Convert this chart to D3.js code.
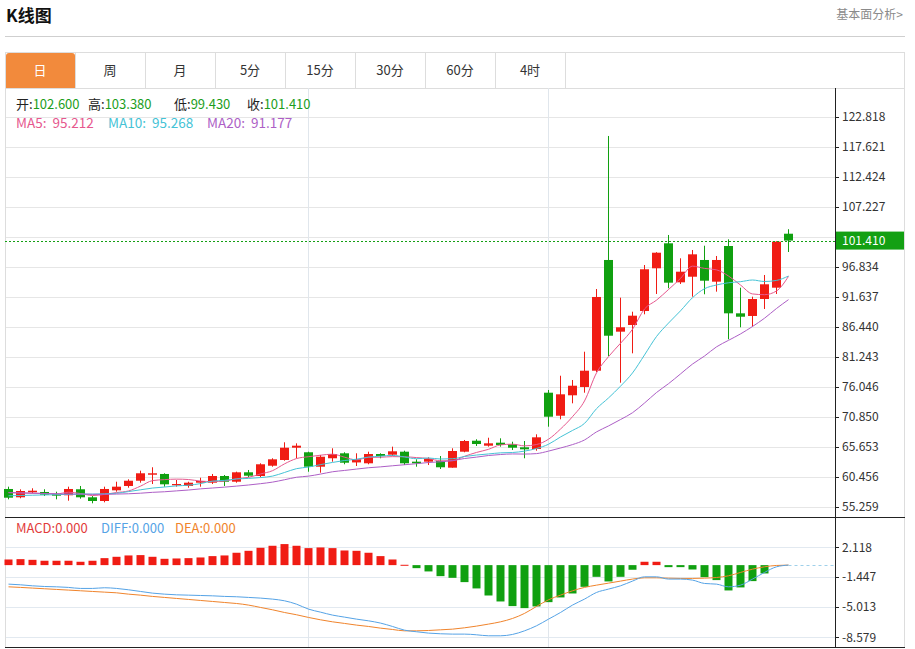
<!DOCTYPE html>
<html>
<head>
<meta charset="utf-8">
<script src="https://cdn.jsdelivr.net/npm/d3@7"></script>
<style>
body { margin: 0; background: #fff; }
svg { font-family: "Microsoft YaHei", "Noto Sans CJK SC", sans-serif; display: block; }
</style>
</head>
<body>
<svg></svg>
<script>
const width = 915
const height = 649

// 周期标签
const tabs = ['日', '周', '月', '5分', '15分', '30分', '60分', '4时']

// K线数据（日线）
const open = [58.38, 56.94, 57.81, 57.86, 57.51, 57.29, 58.33, 56.94, 56.30, 58.15,
  58.90, 59.81, 60.85, 60.98, 59.02, 58.90, 59.47, 59.47, 60.63, 59.64,
  61.27, 60.63, 62.41, 63.40, 65.53, 64.74, 62.24, 63.70, 64.56, 62.98,
  62.83, 64.44, 64.32, 64.84, 63.11, 63.11, 63.23, 62.07, 64.84, 66.74,
  65.88, 66.40, 66.12, 65.60, 65.31, 75.06, 71.07, 74.61, 76.05, 78.87,
  98.05, 85.63, 86.79, 89.21, 96.61, 100.94, 94.18, 95.15, 98.05, 94.29,
  100.47, 88.81, 88.35, 91.29, 93.25, 102.60]
const high = [58.78, 58.32, 58.50, 58.33, 57.91, 58.78, 58.90, 57.16, 58.78, 59.64,
  60.06, 61.55, 62.14, 61.10, 59.94, 59.64, 60.33, 60.98, 60.80, 61.38,
  61.67, 62.83, 63.70, 66.47, 66.29, 64.84, 64.27, 65.43, 64.74, 64.56,
  64.84, 64.56, 65.71, 65.01, 63.52, 63.87, 64.09, 65.43, 66.87, 66.99,
  67.26, 67.16, 66.57, 66.69, 67.85, 75.53, 78.00, 77.26, 82.16, 93.02,
  119.53, 91.52, 89.09, 97.18, 99.40, 102.38, 98.34, 99.78, 100.52, 98.74,
  101.63, 93.25, 91.69, 95.45, 101.30, 103.38]
const low = [56.59, 56.77, 57.63, 57.16, 56.59, 56.35, 56.70, 55.90, 56.07, 57.91,
  58.60, 59.47, 59.24, 58.78, 58.78, 58.60, 58.78, 59.24, 58.90, 59.47,
  60.40, 60.40, 62.24, 63.28, 63.70, 61.37, 61.20, 63.11, 62.66, 62.36,
  62.66, 63.70, 64.09, 62.53, 62.24, 62.53, 61.84, 62.07, 64.74, 65.83,
  65.71, 65.71, 65.13, 63.70, 65.01, 69.17, 70.45, 73.22, 75.06, 78.65,
  81.42, 76.79, 81.88, 88.64, 92.16, 93.15, 93.89, 91.69, 92.11, 92.56,
  84.31, 86.39, 86.49, 89.56, 92.16, 99.43]
const close = [56.87, 58.03, 58.08, 57.39, 57.22, 58.38, 56.94, 56.30, 58.38, 58.78,
  59.81, 61.10, 61.10, 59.19, 59.24, 59.47, 59.76, 60.63, 59.64, 61.27,
  60.68, 62.66, 63.52, 65.53, 65.88, 62.24, 63.97, 64.44, 62.93, 63.52,
  64.44, 64.09, 64.91, 62.83, 62.83, 63.57, 62.14, 64.96, 66.69, 66.17,
  66.29, 66.00, 65.53, 65.25, 67.33, 70.90, 74.78, 76.27, 78.87, 91.64,
  84.93, 86.39, 88.40, 96.44, 99.31, 94.12, 96.02, 99.03, 94.46, 98.05,
  88.81, 88.22, 91.29, 93.84, 101.22, 101.41]

// 均线
const ma5 = [57.75, 57.70, 57.65, 57.60, 57.52, 57.82, 57.60, 57.25, 57.44, 57.76,
  58.04, 58.87, 59.83, 60.00, 60.09, 60.02, 59.75, 59.66, 59.75, 60.15,
  60.40, 60.98, 61.55, 62.73, 63.65, 63.97, 64.23, 64.41, 63.89, 63.42,
  63.86, 63.88, 63.98, 63.96, 63.82, 63.65, 63.26, 63.27, 64.04, 64.71,
  65.25, 66.02, 66.14, 65.85, 66.08, 67.00, 68.76, 70.91, 73.63, 78.49,
  81.30, 83.62, 86.05, 89.56, 91.09, 92.93, 94.86, 96.98, 96.59, 96.34,
  95.27, 93.71, 92.17, 92.04, 92.68, 95.212]
const ma10 = [57.20, 57.25, 57.30, 57.35, 57.40, 57.45, 57.50, 57.50, 57.55, 57.64,
  57.93, 58.24, 58.54, 58.72, 58.92, 59.03, 59.31, 59.75, 59.87, 60.12,
  60.21, 60.36, 60.61, 61.24, 61.90, 62.18, 62.60, 62.98, 63.31, 63.54,
  63.91, 64.06, 64.20, 63.93, 63.62, 63.75, 63.57, 63.62, 64.00, 64.26,
  64.45, 64.64, 64.70, 64.94, 65.39, 66.13, 67.39, 68.52, 69.74, 72.29,
  74.15, 76.19, 78.48, 81.60, 84.79, 87.12, 89.24, 91.52, 93.07, 93.72,
  94.10, 94.29, 94.58, 94.32, 94.51, 95.268]
const ma20 = [57.75, 57.70, 57.65, 57.60, 57.55, 57.50, 57.50, 57.45, 57.45, 57.50,
  57.55, 57.65, 57.80, 57.90, 58.05, 58.20, 58.40, 58.55, 58.70, 58.88,
  59.07, 59.30, 59.57, 59.98, 60.41, 60.61, 60.96, 61.36, 61.59, 61.83,
  62.06, 62.21, 62.40, 62.58, 62.76, 62.97, 63.09, 63.30, 63.66, 63.90,
  64.18, 64.35, 64.45, 64.43, 64.51, 64.94, 65.48, 66.07, 66.87, 68.27,
  69.30, 70.41, 71.59, 73.27, 75.09, 76.62, 78.31, 80.02, 81.41, 83.00,
  84.13, 85.24, 86.53, 87.96, 89.65, 91.177]

// MACD
const diff = [-2.26, -2.34, -2.46, -2.54, -2.58, -2.65, -2.77, -2.77, -2.69, -2.77,
  -2.93, -3.13, -3.33, -3.45, -3.53, -3.57, -3.61, -3.65, -3.72, -3.76,
  -3.84, -3.92, -4.04, -4.24, -4.64, -5.23, -5.59, -5.94, -6.18, -6.42,
  -6.62, -6.89, -7.29, -7.73, -7.92, -8.08, -8.16, -8.20, -8.20, -8.28,
  -8.40, -8.40, -8.24, -7.81, -7.21, -6.42, -5.63, -4.75, -4.04, -3.25,
  -2.85, -2.46, -1.90, -1.39, -1.39, -1.66, -1.66, -1.78, -2.18, -2.26,
  -2.58, -2.38, -1.66, -0.87, -0.20, 0]
const dea = [-2.58, -2.65, -2.73, -2.81, -2.89, -2.97, -3.05, -3.13, -3.21, -3.29,
  -3.45, -3.57, -3.72, -3.84, -3.96, -4.08, -4.20, -4.32, -4.44, -4.56,
  -4.75, -5.03, -5.31, -5.63, -5.90, -6.22, -6.50, -6.74, -6.93, -7.13,
  -7.29, -7.49, -7.65, -7.81, -7.81, -7.77, -7.69, -7.61, -7.45, -7.25,
  -7.01, -6.74, -6.34, -5.74, -4.91, -4.12, -3.57, -3.05, -2.65, -2.38,
  -2.14, -1.90, -1.66, -1.51, -1.51, -1.55, -1.58, -1.58, -1.55, -1.47,
  -1.27, -0.87, -0.48, -0.20, -0.04, 0]
const macd = [0.67, 0.71, 0.63, 0.52, 0.52, 0.52, 0.40, 0.52, 0.83, 0.99,
  1.15, 1.19, 0.99, 0.75, 0.79, 0.83, 0.91, 1.07, 1.15, 1.47,
  1.70, 2.06, 2.30, 2.50, 2.30, 2.02, 2.10, 2.02, 1.74, 1.70,
  1.47, 1.07, 0.67, 0.04, -0.36, -0.75, -1.31, -1.51, -2.02, -2.77,
  -3.61, -4.32, -4.87, -5.11, -4.91, -4.40, -3.84, -3.37, -2.58, -1.39,
  -1.94, -1.39, -0.55, 0.40, 0.40, -0.24, -0.24, -0.52, -1.43, -1.78,
  -3.01, -2.65, -1.90, -0.99, 0, 0]

// 坐标轴刻度
const priceTicks = [55.259, 60.456, 65.653, 70.850, 76.046, 81.243, 86.440, 91.637, 96.834, 102.031, 107.227, 112.424, 117.621, 122.818]
const macdTicks = [-8.579, -5.013, -1.447, 2.118]
// 月份分隔（K线序号）
const monthStarts = [25, 45]

const UP = '#f01c14', DOWN = '#10a010'
const C_MA5 = '#e6588e', C_MA10 = '#45c3d6', C_MA20 = '#ad5fc6'
const C_DIFF = '#55a3e6', C_DEA = '#f0842c'

const left = 5, axisX = 835, right = 905
const mainTop = 88, mainBottom = 517, macdBottom = 647

const svg = d3.select('svg').attr('width', width).attr('height', height)

// 标题栏
svg.append('text').attr('x', 6).attr('y', 22).attr('font-size', 17).attr('font-weight', 'bold')
  .attr('fill', '#111').text('K线图')
svg.append('text').attr('x', 903).attr('y', 19).attr('text-anchor', 'end').attr('font-size', 12)
  .attr('fill', '#8a8a8a').text('基本面分析>')
svg.append('line').attr('x1', left).attr('x2', right).attr('y1', 36.5).attr('y2', 36.5)
  .attr('stroke', '#cfcfcf')

// 周期tab
const tabW = 70
svg.append('rect').attr('x', left + 0.5).attr('y', 52.5).attr('width', right - left - 1).attr('height', 36)
  .attr('fill', 'none').attr('stroke', '#ddd')
svg.append('rect').attr('x', 6).attr('y', 53).attr('width', tabW - 1).attr('height', 35).attr('rx', 3)
  .attr('fill', '#f28a3c')
svg.append('rect').attr('x', 6).attr('y', 70).attr('width', tabW - 1).attr('height', 18).attr('fill', '#f28a3c')
const tg = svg.append('g')
tg.selectAll('line').data(tabs).enter().append('line')
  .attr('x1', (d, i) => 75.5 + i * tabW).attr('x2', (d, i) => 75.5 + i * tabW)
  .attr('y1', 53).attr('y2', 88).attr('stroke', '#ddd')
tg.selectAll('text').data(tabs).enter().append('text')
  .attr('x', (d, i) => 40 + i * tabW).attr('y', 75).attr('text-anchor', 'middle').attr('font-size', 13)
  .attr('fill', (d, i) => i === 0 ? '#fff' : '#333').text(d => d)

// 比例尺
const x = d3.scaleBand().domain(d3.range(close.length)).range([2.5, 794.5]).paddingInner(0.25).paddingOuter(0.125)
const cx = i => x(i) + x.bandwidth() / 2
const y = d3.scaleLinear().domain([55.259, 122.818]).range([507, 117])
const ym = d3.scaleLinear().domain([-8.579, 2.118]).range([637.3, 547.3])

// 网格
const grid = svg.append('g')
grid.selectAll('.hp').data(priceTicks).enter().append('line')
  .attr('x1', left).attr('x2', axisX).attr('y1', d => Math.round(y(d)) + 0.5).attr('y2', d => Math.round(y(d)) + 0.5)
  .attr('stroke', '#e6e6e6')
grid.selectAll('.hm').data(macdTicks).enter().append('line')
  .attr('x1', left).attr('x2', axisX).attr('y1', d => Math.round(ym(d)) + 0.5).attr('y2', d => Math.round(ym(d)) + 0.5)
  .attr('stroke', '#e2e9f0')
grid.selectAll('.v').data(monthStarts).enter().append('line')
  .attr('x1', d => cx(d)).attr('x2', d => cx(d)).attr('y1', mainTop).attr('y2', macdBottom)
  .attr('stroke', '#e0e6ec')

// 边框
svg.append('line').attr('x1', left + 0.5).attr('x2', left + 0.5).attr('y1', mainTop).attr('y2', macdBottom).attr('stroke', '#ddd')
svg.append('line').attr('x1', right - 0.5).attr('x2', right - 0.5).attr('y1', mainTop).attr('y2', macdBottom).attr('stroke', '#ddd')

// K线
const last = close.length - 1
const idx = d3.range(close.length)
const kg = svg.append('g')
kg.selectAll('line').data(idx).enter().append('line')
  .attr('x1', i => cx(i)).attr('x2', i => cx(i))
  .attr('y1', i => y(high[i])).attr('y2', i => y(low[i]))
  .attr('stroke', i => close[i] >= open[i] ? UP : DOWN).attr('stroke-width', 1)
kg.selectAll('rect').data(idx).enter().append('rect')
  .attr('x', i => x(i)).attr('width', x.bandwidth())
  .attr('y', i => y(Math.max(open[i], close[i])))
  .attr('height', i => Math.max(1, Math.abs(y(open[i]) - y(close[i]))))
  .attr('fill', i => close[i] >= open[i] ? UP : DOWN)

// 均线
const line = arr => d3.line().x((d, i) => cx(i)).y(d => y(d)).curve(d3.curveMonotoneX)(arr)
;[[ma5, C_MA5], [ma10, C_MA10], [ma20, C_MA20]].forEach(([arr, c]) => {
  svg.append('path').attr('d', line(arr)).attr('fill', 'none').attr('stroke', c).attr('stroke-width', 1)
})

// 最新价虚线
svg.append('line').attr('x1', left).attr('x2', axisX)
  .attr('y1', Math.round(y(close[last])) + 0.5).attr('y2', Math.round(y(close[last])) + 0.5)
  .attr('stroke', '#14a014').attr('stroke-dasharray', '2,2')

// MACD柱
svg.append('g').selectAll('rect').data(idx.filter(i => macd[i] !== 0)).enter().append('rect')
  .attr('x', i => cx(i) - 4).attr('width', 8)
  .attr('y', i => Math.min(ym(0), ym(macd[i])))
  .attr('height', i => Math.max(1, Math.abs(ym(macd[i]) - ym(0))))
  .attr('fill', i => macd[i] >= 0 ? UP : DOWN)
const mline = arr => d3.line().x((d, i) => cx(i)).y(d => ym(d)).curve(d3.curveMonotoneX)(arr)
svg.append('path').attr('d', mline(dea)).attr('fill', 'none').attr('stroke', C_DEA).attr('stroke-width', 1)
svg.append('path').attr('d', mline(diff)).attr('fill', 'none').attr('stroke', C_DIFF).attr('stroke-width', 1)
svg.append('line').attr('x1', cx(last)).attr('x2', axisX)
  .attr('y1', Math.round(ym(0)) + 0.5).attr('y2', Math.round(ym(0)) + 0.5)
  .attr('stroke', '#9fd0ea').attr('stroke-dasharray', '3,3')

// 右侧坐标轴
const ax = svg.append('g')
ax.append('line').attr('x1', axisX + 0.5).attr('x2', axisX + 0.5).attr('y1', mainTop).attr('y2', macdBottom).attr('stroke', '#222')
ax.append('line').attr('x1', left).attr('x2', right).attr('y1', mainBottom + 0.5).attr('y2', mainBottom + 0.5).attr('stroke', '#222')
ax.append('line').attr('x1', left).attr('x2', right).attr('y1', macdBottom + 0.5).attr('y2', macdBottom + 0.5).attr('stroke', '#222')
const lastY = y(close[last])
const pt = priceTicks.filter(t => Math.abs(y(t) - lastY) > 12)
ax.selectAll('.tp').data(pt).enter().append('line')
  .attr('x1', axisX).attr('x2', axisX + 4).attr('y1', d => Math.round(y(d)) + 0.5).attr('y2', d => Math.round(y(d)) + 0.5)
  .attr('stroke', '#222')
ax.selectAll('.lp').data(pt).enter().append('text')
  .attr('x', axisX + 7).attr('y', d => y(d)).attr('dy', '0.35em').attr('font-size', 12).attr('fill', '#333')
  .text(d => d.toFixed(3))
ax.selectAll('.tm').data(macdTicks).enter().append('line')
  .attr('x1', axisX).attr('x2', axisX + 4).attr('y1', d => Math.round(ym(d)) + 0.5).attr('y2', d => Math.round(ym(d)) + 0.5)
  .attr('stroke', '#222')
ax.selectAll('.lm').data(macdTicks).enter().append('text')
  .attr('x', axisX + 7).attr('y', d => ym(d)).attr('dy', '0.35em').attr('font-size', 12).attr('fill', '#333')
  .text(d => d.toFixed(3))

// 最新价标签
ax.append('rect').attr('x', axisX + 1).attr('y', lastY - 9).attr('width', right - axisX - 2).attr('height', 18)
  .attr('fill', '#13a013')
ax.append('text').attr('x', axisX + 7).attr('y', lastY).attr('dy', '0.35em').attr('font-size', 12)
  .attr('fill', '#fff').text(close[last].toFixed(3))

// 图例
const green = '#1c9e1c'
const ohlc = [['开', open[last], 16], ['高', high[last], 88], ['低', low[last], 174], ['收', close[last], 247]]
ohlc.forEach(([k, v, px]) => {
  const t = svg.append('text').attr('x', px).attr('y', 109).attr('font-size', 13)
  t.append('tspan').attr('fill', '#222').text(k + ':')
  t.append('tspan').attr('fill', green).text(v.toFixed(3))
})
const maLegend = [['MA5', ma5[last], C_MA5, 16], ['MA10', ma10[last], C_MA10, 108], ['MA20', ma20[last], C_MA20, 207]]
maLegend.forEach(([k, v, c, px]) => {
  svg.append('text').attr('x', px).attr('y', 128).attr('font-size', 13.5).attr('fill', c)
    .attr('xml:space', 'preserve').style('white-space', 'pre')
    .text(k + ':  ' + v.toFixed(3))
})
const macdLegend = [['MACD', macd[last], '#e23b3b', 16], ['DIFF', diff[last], C_DIFF, 101], ['DEA', dea[last], C_DEA, 175]]
macdLegend.forEach(([k, v, c, px]) => {
  svg.append('text').attr('x', px).attr('y', 533).attr('font-size', 13).attr('fill', c)
    .text(k + ':' + Math.abs(v).toFixed(3))
})
</script>
</body>
</html>
